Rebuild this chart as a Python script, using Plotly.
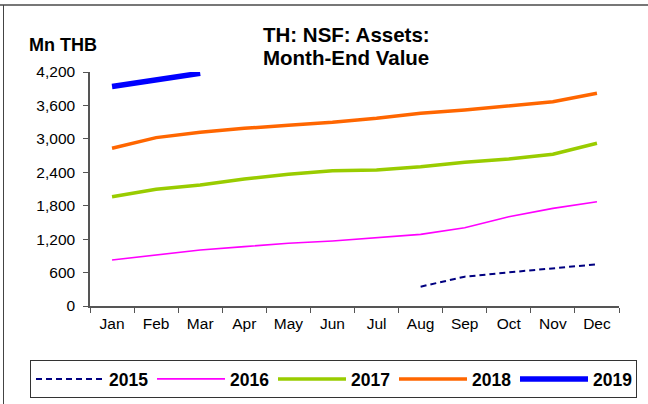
import plotly.graph_objects as go

months = ["Jan", "Feb", "Mar", "Apr", "May", "Jun", "Jul", "Aug", "Sep", "Oct", "Nov", "Dec"]
y2015 = [None, None, None, None, None, None, None, 347, 526, 604, 676, 748]
y2016 = [826, 915, 1005, 1065, 1125, 1167, 1226, 1286, 1405, 1603, 1752, 1872]
y2017 = [1962, 2094, 2172, 2280, 2364, 2429, 2441, 2501, 2579, 2639, 2723, 2920]
y2018 = [2832, 3022, 3117, 3189, 3243, 3297, 3369, 3459, 3518, 3596, 3667, 3820]
y2019 = [3940, 4060, 4177, None, None, None, None, None, None, None, None, None]
y_ticks = [0, 600, 1200, 1800, 2400, 3000, 3600, 4200]
title_lines = ["TH: NSF: Assets:", "Month-End Value"]

W, H = 648, 404
L, R, T, B = 90, 29, 72, 98
pw, ph = W - L - R, H - T - B

def px(x):
    return (x - L) / pw

def py(y):
    return (H - B - y) / ph

fig = go.Figure()
series = [
    ("2015", y2015, "#000080", 2, "6px,4px"),
    ("2016", y2016, "#FF00FF", 1.6, "solid"),
    ("2017", y2017, "#99CC00", 3.5, "solid"),
    ("2018", y2018, "#FF6600", 3.5, "solid"),
    ("2019", y2019, "#0000FF", 5.5, "solid"),
]
for name, ys, col, w, dash in series:
    fig.add_trace(go.Scatter(x=months, y=ys, name=name, mode="lines",
                             line=dict(color=col, width=w, dash=dash),
                             connectgaps=False))

FONT = "Liberation Sans, Arial, sans-serif"
annotations = [
    dict(text=t, xref="paper", yref="paper", x=px(261), y=py(yc),
         xanchor="left", yanchor="middle", align="left", showarrow=False,
         font=dict(size=20.5, weight="bold", color="black"))
    for t, yc in zip(title_lines, [35, 57])
]
annotations.append(dict(text="Mn THB", xref="paper", yref="paper",
                        x=px(63), y=py(45), xanchor="center", yanchor="middle",
                        showarrow=False, font=dict(size=18, weight="bold", color="black")))

fig.update_layout(
    width=W, height=H,
    margin=dict(l=L, r=R, t=T, b=B, pad=0, autoexpand=False),
    paper_bgcolor="white", plot_bgcolor="white",
    font=dict(family=FONT, size=15.5, color="black"),
    showlegend=True,
    legend=dict(orientation="h", x=px(30), y=py(360), xanchor="left", yanchor="top",
                bordercolor="#333333", borderwidth=1,
                font=dict(size=17.5, family=FONT, color="black", weight="bold"),
                itemwidth=68, entrywidth=38, entrywidthmode="pixels", tracegroupgap=0),
    xaxis=dict(categoryorder="array", categoryarray=months, range=[-0.5, 11.5],
               showline=True, linecolor="#555555", linewidth=1.5,
               ticks="outside", tickson="boundaries", ticklen=5, tickcolor="#555555",
               showgrid=False, zeroline=False, ticklabelstandoff=3),
    yaxis=dict(range=[0, 4200], tickvals=y_ticks, tickformat=",d",
               showline=True, linecolor="#555555", linewidth=1.5,
               ticks="outside", ticklen=5, tickcolor="#555555",
               showgrid=False, zeroline=False, ticklabelstandoff=5),
    annotations=annotations,
    shapes=[
        dict(type="line", xref="paper", yref="paper", x0=px(0), x1=px(W), y0=py(5), y1=py(5),
             line=dict(color="#777777", width=2)),
        dict(type="line", xref="paper", yref="paper", x0=px(3.5), x1=px(3.5), y0=py(5), y1=py(H),
             line=dict(color="#444444", width=1)),
    ],
)

fig.write_html("out.html", config={"displayModeBar": False},
               post_script="document.body.style.margin='0';")
